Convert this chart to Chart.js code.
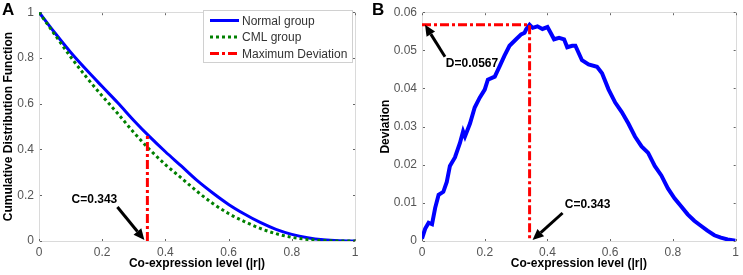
<!DOCTYPE html>
<html>
<head>
<meta charset="utf-8">
<script src="https://cdn.jsdelivr.net/npm/chart.js@4.4.0/dist/chart.umd.min.js"></script>
<style>
    html, body { margin: 0; padding: 0; background: #fff; }
    #wrap { position: relative; width: 743px; height: 275px; }
    .panel { position: absolute; top: 0; height: 275px; }
    #pa { left: 0; width: 371px; }
    #pb { left: 371px; width: 372px; }
</style>
</head>
<body>
<div id="wrap">
    <div class="panel" id="pa"><canvas id="chartA"></canvas></div>
    <div class="panel" id="pb"><canvas id="chartB"></canvas></div>
</div>
<script>
(function () {
    "use strict";

    // Panel A: cumulative distributions
    const cdfX = [0, 0.05, 0.1, 0.15, 0.2, 0.25, 0.3, 0.35, 0.4, 0.45, 0.5,
        0.55, 0.6, 0.65, 0.7, 0.75, 0.8, 0.85, 0.9, 0.95, 1];
    const normalCdf = [1, 0.91, 0.825, 0.748, 0.675, 0.603, 0.527, 0.456, 0.39, 0.328, 0.265,
        0.21, 0.16, 0.118, 0.081, 0.051, 0.029, 0.014, 0.005, 0.001, 0];
    const cmlCdf = [1, 0.902, 0.805, 0.716, 0.634, 0.556, 0.474, 0.4, 0.334, 0.276, 0.217,
        0.164, 0.12, 0.085, 0.055, 0.032, 0.016, 0.007, 0.002, 0.0003, 0];

    // Panel B: deviation between the two curves
    const devX = [0, 0.01, 0.021, 0.032, 0.042, 0.053, 0.068, 0.079, 0.089, 0.105,
        0.121, 0.131, 0.137, 0.153, 0.168, 0.184, 0.2, 0.21, 0.232, 0.247,
        0.263, 0.279, 0.3, 0.316, 0.327, 0.332, 0.343, 0.353, 0.368, 0.384,
        0.4, 0.41, 0.421, 0.437, 0.453, 0.463, 0.479, 0.489, 0.51, 0.531,
        0.558, 0.574, 0.595, 0.616, 0.637, 0.658, 0.679, 0.7, 0.721, 0.742,
        0.763, 0.784, 0.805, 0.826, 0.847, 0.868, 0.889, 0.91, 0.932, 0.953,
        0.974, 1];
    const devY = [0.0006, 0.0032, 0.0048, 0.0044, 0.0087, 0.0121, 0.0129, 0.0155, 0.0197, 0.0219,
        0.0257, 0.0287, 0.0274, 0.0308, 0.035, 0.0376, 0.0397, 0.0423, 0.0431, 0.0457,
        0.0486, 0.0512, 0.0529, 0.0542, 0.0546, 0.0555, 0.0567, 0.0559, 0.0563, 0.0556,
        0.0561, 0.0546, 0.0529, 0.0533, 0.0529, 0.0508, 0.0512, 0.0512, 0.0474, 0.0463,
        0.0457, 0.044, 0.0397, 0.0363, 0.0338, 0.0308, 0.0274, 0.0248, 0.0231, 0.0197,
        0.0172, 0.0138, 0.0112, 0.0091, 0.007, 0.0053, 0.004, 0.0027, 0.0015, 0.0009,
        0.0004, 0.0001];

    const cValue = 0.343;
    const dValue = 0.0567;
    const normalAtC = 0.46;

    const xTicks = [0, 0.2, 0.4, 0.6, 0.8, 1];
    const cdfTicks = [0, 0.2, 0.4, 0.6, 0.8, 1];
    const devTicks = [0, 0.01, 0.02, 0.03, 0.04, 0.05, 0.06];

    const BLUE = "#0000ff";
    const GREEN = "#008000";
    const RED = "#ff0000";
    const tickFont = { family: "Liberation Sans, Arial, sans-serif", size: 12 };
    const titleFont = { family: "Liberation Sans, Arial, sans-serif", size: 12, weight: "bold" };

    const pairs = (xs, ys) => xs.map((x, i) => ({ x: x, y: ys[i] }));

    // frame, small inner ticks, panel letter, arrows and legend
    const decor = {
        id: "decor",
        beforeDatasetsDraw(chart, args, opts) {
            const { ctx, chartArea: a, scales } = chart;
            ctx.save();
            ctx.strokeStyle = "#dadada";
            ctx.lineWidth = 1;
            ctx.strokeRect(Math.round(a.left) + 0.5, Math.round(a.top) + 0.5,
                Math.round(a.right - a.left), Math.round(a.bottom - a.top));
            ctx.fillStyle = "#666";
            scales.x.ticks.forEach((t) => {
                const px = Math.round(scales.x.getPixelForValue(t.value));
                ctx.fillRect(px, a.bottom - 2, 1, 2);
                ctx.fillRect(px, a.top + 1, 1, 2);
            });
            scales.y.ticks.forEach((t) => {
                const py = Math.round(scales.y.getPixelForValue(t.value));
                ctx.fillRect(a.left + 1, py, 2, 1);
                ctx.fillRect(a.right - 2, py, 2, 1);
            });
            ctx.restore();
        },
        afterDraw(chart, args, opts) {
            const { ctx, scales } = chart;
            ctx.save();
            ctx.fillStyle = "#000";
            ctx.font = "bold 17px Liberation Sans, Arial, sans-serif";
            ctx.textBaseline = "top";
            ctx.fillText(opts.letter, opts.letterX, 2);

            (opts.arrows || []).forEach((ar) => {
                const tx = scales.x.getPixelForValue(ar.x) + ar.tipDx;
                const ty = scales.y.getPixelForValue(ar.y) + ar.tipDy;
                const sx = tx + ar.tailDx;
                const sy = ty + ar.tailDy;
                const ang = Math.atan2(ty - sy, tx - sx);
                const head = 11;
                const bx = tx - head * Math.cos(ang);
                const by = ty - head * Math.sin(ang);
                ctx.strokeStyle = "#000";
                ctx.lineWidth = 3;
                ctx.beginPath();
                ctx.moveTo(sx, sy);
                ctx.lineTo(bx, by);
                ctx.stroke();
                ctx.beginPath();
                ctx.moveTo(tx, ty);
                ctx.lineTo(bx + 5 * Math.sin(ang), by - 5 * Math.cos(ang));
                ctx.lineTo(bx - 5 * Math.sin(ang), by + 5 * Math.cos(ang));
                ctx.closePath();
                ctx.fillStyle = "#000";
                ctx.fill();
                ctx.font = "bold 12px Liberation Sans, Arial, sans-serif";
                ctx.textAlign = "center";
                ctx.textBaseline = "middle";
                ctx.fillText(ar.text, tx + ar.textDx, ty + ar.textDy);
            });

            if (opts.legend) {
                const lg = opts.legend;
                ctx.fillStyle = "#fff";
                ctx.fillRect(lg.x, lg.y, lg.w, lg.h);
                ctx.strokeStyle = "#d0d0d0";
                ctx.lineWidth = 1;
                ctx.strokeRect(lg.x + 0.5, lg.y + 0.5, lg.w, lg.h);
                ctx.font = "12px Liberation Sans, Arial, sans-serif";
                ctx.textAlign = "left";
                ctx.textBaseline = "middle";
                const items = chart.data.datasets.slice().sort((p, q) => p.legendIndex - q.legendIndex);
                items.forEach((ds, i) => {
                    const y = lg.y + 10.5 + i * 16.5;
                    ctx.strokeStyle = ds.borderColor;
                    ctx.lineWidth = 3;
                    ctx.setLineDash(ds.borderDash || []);
                    ctx.beginPath();
                    ctx.moveTo(lg.x + 7, y);
                    ctx.lineTo(lg.x + 36, y);
                    ctx.stroke();
                    ctx.setLineDash([]);
                    ctx.fillStyle = "#333";
                    ctx.fillText(ds.label, lg.x + 39, y + 1);
                });
            }
            ctx.restore();
        },
    };

    function xScale() {
        return {
            type: "linear",
            min: 0,
            max: 1,
            afterBuildTicks: (s) => { s.ticks = xTicks.map((v) => ({ value: v })); },
            afterFit: (s) => { s.height = 34; },
            grid: { display: false, drawTicks: false },
            border: { display: false },
            ticks: { font: tickFont, color: "#555", padding: 4, maxRotation: 0,
                callback: (v) => String(v) },
            title: { display: true, text: "Co-expression level (|r|)", font: titleFont,
                color: "#000", padding: { top: 0, bottom: 4 } },
        };
    }

    function yScale(ticks, width, title, titlePad) {
        return {
            type: "linear",
            min: ticks[0],
            max: ticks[ticks.length - 1],
            afterBuildTicks: (s) => { s.ticks = ticks.map((v) => ({ value: v })); },
            afterFit: (s) => { s.width = width; },
            grid: { display: false, drawTicks: false },
            border: { display: false },
            ticks: { font: tickFont, color: "#555", padding: 5,
                callback: (v) => String(v) },
            title: { display: true, text: title, font: titleFont, color: "#000",
                padding: { top: titlePad, bottom: 0 } },
        };
    }

    new Chart(document.getElementById("chartA"), {
        type: "line",
        data: {
            datasets: [
                {
                    label: "Normal group",
                    legendIndex: 0,
                    data: pairs(cdfX, normalCdf),
                    borderColor: BLUE,
                    borderWidth: 3,
                    cubicInterpolationMode: "monotone",
                    order: 2,
                },
                {
                    label: "CML group",
                    legendIndex: 1,
                    data: pairs(cdfX, cmlCdf),
                    borderColor: GREEN,
                    borderWidth: 3,
                    borderDash: [3, 3],
                    cubicInterpolationMode: "monotone",
                    order: 1,
                },
                {
                    label: "Maximum Deviation",
                    legendIndex: 2,
                    data: [{ x: cValue, y: 0 }, { x: cValue, y: normalAtC }],
                    borderColor: RED,
                    borderWidth: 3,
                    borderDash: [9, 3, 3, 3],
                    order: 0,
                },
            ],
        },
        options: {
            responsive: true,
            maintainAspectRatio: false,
            animation: false,
            elements: { point: { radius: 0 } },
            layout: { padding: { left: 0, top: 6, right: 16, bottom: 0 } },
            scales: {
                x: xScale(),
                y: yScale(cdfTicks, 39, "Cumulative Distribution Function", 1),
            },
            plugins: {
                legend: { display: false },
                tooltip: { enabled: false },
                decor: {
                    letter: "A",
                    letterX: 2,
                    legend: { x: 203, y: 10, w: 149, h: 52 },
                    arrows: [
                        { x: cValue, y: 0, tipDx: -3, tipDy: -1, tailDx: -27, tailDy: -33,
                            text: "C=0.343", textDx: -50, textDy: -40 },
                    ],
                },
            },
        },
        plugins: [decor],
    });

    new Chart(document.getElementById("chartB"), {
        type: "line",
        data: {
            datasets: [
                {
                    label: "Deviation",
                    data: pairs(devX, devY),
                    borderColor: BLUE,
                    borderWidth: 4,
                    tension: 0,
                    order: 1,
                },
                {
                    label: "Maximum Deviation",
                    data: [{ x: 0, y: dValue }, { x: cValue, y: dValue }, { x: cValue, y: 0 }],
                    borderColor: RED,
                    borderWidth: 3,
                    borderDash: [9, 3, 3, 3],
                    order: 0,
                },
            ],
        },
        options: {
            responsive: true,
            maintainAspectRatio: false,
            animation: false,
            elements: { point: { radius: 0 } },
            layout: { padding: { left: 0, top: 6, right: 5, bottom: 0 } },
            scales: {
                x: xScale(),
                y: yScale(devTicks, 51, "Deviation", 7),
            },
            plugins: {
                legend: { display: false },
                tooltip: { enabled: false },
                decor: {
                    letter: "B",
                    letterX: 1,
                    arrows: [
                        { x: 0, y: dValue, tipDx: 3, tipDy: 0, tailDx: 20, tailDy: 32,
                            text: "D=0.0567", textDx: 47, textDy: 39 },
                        { x: cValue, y: 0, tipDx: 3, tipDy: -1, tailDx: 30, tailDy: -27,
                            text: "C=0.343", textDx: 55, textDy: -35 },
                    ],
                },
            },
        },
        plugins: [decor],
    });
})();
</script>
</body>
</html>
